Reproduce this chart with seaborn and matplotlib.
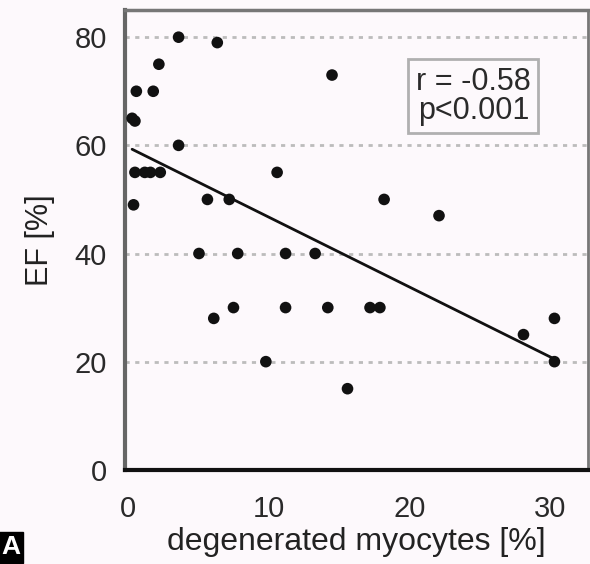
import matplotlib
matplotlib.use("Agg")
import matplotlib.pyplot as plt
import seaborn as sns
import pandas as pd

# data
degenerated = [3.6, 6.35, 2.2, 0.6, 1.8, 0.3, 0.5, 3.6, 0.5, 1.2, 1.6, 2.3, 10.6,
               0.4, 5.65, 7.2, 14.5, 18.2, 22.1, 5.05, 7.8, 11.2, 13.3, 6.1, 7.5,
               11.2, 14.2, 17.2, 17.9, 30.3, 28.1, 9.8, 30.3, 15.6]
ef = [80, 79, 75, 70, 70, 65, 64.5, 60, 55, 55, 55, 55, 55,
      49, 50, 50, 73, 50, 47, 40, 40, 40, 40, 28, 30,
      30, 30, 30, 30, 28, 25, 20, 20, 15]
x_ticks = [0, 10, 20, 30]
y_ticks = [0, 20, 40, 60, 80]
stats_text = "r = -0.58\np<0.001"

df = pd.DataFrame({"degenerated": degenerated, "ef": ef})

sns.set_theme(style="white")
plt.rcParams["font.family"] = ["Liberation Sans", "DejaVu Sans"]

bg = "#fdf9fc"
fig = plt.figure(figsize=(5.9, 5.64), dpi=100, facecolor=bg)
ax = fig.add_axes([0.212, 0.167, 0.785, 0.815])
ax.set_facecolor(bg)

for yv in y_ticks[1:]:
    ax.axhline(yv, color="#bcbcbc", lw=2, ls=(0, (1.5, 2)), zorder=0)

sns.regplot(data=df, x="degenerated", y="ef", ax=ax, ci=None, truncate=True,
            scatter_kws=dict(s=70, color="#111111", edgecolor="none", alpha=1, zorder=3),
            line_kws=dict(color="#111111", lw=2, zorder=2))

ax.set_xlim(-0.2, 32.7)
ax.set_ylim(0, 85)
ax.set_xticks(x_ticks)
ax.set_yticks(y_ticks)
ax.tick_params(axis="both", labelsize=21, colors="#2a2a2a", length=8, width=2,
               direction="out", pad=5)
ax.tick_params(axis="x", pad=10)
ax.tick_params(axis="y", colors="#555555", labelcolor="#2a2a2a")
ax.set_xlabel("degenerated myocytes [%]", fontsize=23, color="#222222", labelpad=3)
ax.set_ylabel("EF [%]", fontsize=22, color="#222222", labelpad=14)

ax.spines["left"].set_color("#666666")
ax.spines["left"].set_linewidth(3)
ax.spines["bottom"].set_color("#111111")
ax.spines["bottom"].set_linewidth(3)
ax.spines["top"].set_color("#777777")
ax.spines["top"].set_linewidth(2.5)
ax.spines["right"].set_color("#777777")
ax.spines["right"].set_linewidth(2)

ax.text(0.752, 0.813, stats_text, transform=ax.transAxes, ha="center", va="center",
        fontsize=22, color="#2a2a2a", linespacing=0.95,
        bbox=dict(boxstyle="square,pad=0.25", facecolor=bg, edgecolor="#b0b0b0", lw=2))

fig.text(0.002, 0.008, "A", fontsize=19, color="white", fontweight="bold",
         ha="left", va="bottom",
         bbox=dict(boxstyle="square,pad=0.12", facecolor="black", edgecolor="black"))

fig.savefig("out.png", dpi=100, facecolor=bg)
